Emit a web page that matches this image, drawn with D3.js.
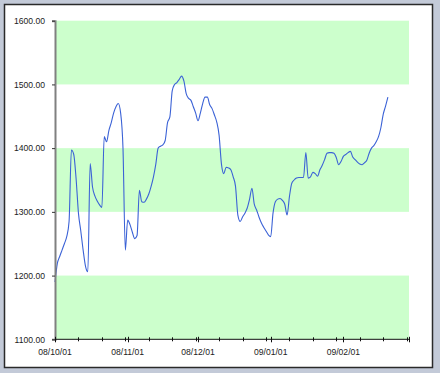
<!DOCTYPE html>
<html><head><meta charset="utf-8">
<script src="https://cdn.jsdelivr.net/npm/d3@7"></script>
<style>body{margin:0;background:#c3cad8;}svg{display:block;}</style>
</head><body>
<svg id="c" width="440" height="373"></svg>
<script>
// Data (daily closes, starting 2008-10-01)
const startDate = "2008-10-01";
const values = [
1190,1219,1230,1240,1250,1261,1285,1397,1390,1352,1298,1270,1240,1215,1206,1376,1339,1325,1317,1311,
1307,1418,1410,1428,1440,1455,1465,1470,1455,1400,1240,1287,1280,1268,1258,1263,1334,1316,1315,1320,
1328,1340,1355,1375,1400,1403,1405,1412,1440,1449,1490,1500,1503,1508,1513,1505,1485,1478,1475,1465,
1455,1443,1455,1470,1480,1480,1468,1462,1452,1441,1420,1375,1360,1370,1369,1366,1355,1340,1295,1285,
1292,1298,1306,1320,1337,1312,1303,1292,1283,1276,1270,1264,1261,1298,1316,1320,1321,1318,1312,1295,
1324,1345,1350,1353,1354,1354,1354,1393,1353,1355,1362,1360,1356,1366,1373,1382,1392,1393,1393,1392,
1385,1374,1379,1387,1390,1393,1395,1386,1382,1378,1375,1374,1377,1381,1392,1400,1404,1410,1418,1432,
1453,1466,1480
];
const yTicks = [1100,1200,1300,1400,1500,1600];
const bands = [[1100,1200],[1300,1400],[1500,1600]];
const xDomain = ["2008-10-01","2009-03-01"];
const monthLabels = ["2008-10-01","2008-11-01","2008-12-01","2009-01-01","2009-02-01"];

const parse = d3.timeParse("%Y-%m-%d");
const t0 = parse(startDate);
const data = values.map((v,i)=>({date:d3.timeDay.offset(t0,i), value:v}));

const svg = d3.select("#c");
const W=440,H=373;
const m={left:55,right:31,top:20.7,bottom:33.7};
const x = d3.scaleTime().domain(xDomain.map(parse)).range([m.left, W-m.right]);
const y = d3.scaleLinear().domain([1100,1600]).range([H-m.bottom, m.top]);

// panel
svg.append("rect").attr("x",4.5).attr("y",4.5).attr("width",428).attr("height",363)
  .attr("fill","#fff").attr("stroke","#2a2a2a").attr("stroke-width",1.5);

// bands
svg.append("g").selectAll("rect").data(bands).join("rect")
  .attr("x",x.range()[0]).attr("width",x.range()[1]-x.range()[0])
  .attr("y",d=>y(d[1])).attr("height",d=>y(d[0])-y(d[1]))
  .attr("fill","#ccffcc");

// line
svg.append("path").datum(data)
  .attr("fill","none").attr("stroke","#3b62d6").attr("stroke-width",1.1)
  .attr("d",d3.line().x(d=>x(d.date)).y(d=>y(d.value)).curve(d3.curveMonotoneX));

// y axis
const ya = svg.append("g").attr("transform",`translate(${m.left},0)`)
  .call(d3.axisLeft(y).tickValues(yTicks).tickFormat(d3.format(".2f")).tickSize(3).tickPadding(7));
ya.select(".domain").attr("stroke","#808080").attr("stroke-width",2);
ya.selectAll(".tick line").attr("stroke","#333");
ya.selectAll("text").attr("font-family","Liberation Sans, Arial, sans-serif").attr("font-size","8.6px").attr("fill","#222");

// x axis: 10-day ticks + month ticks
const tenDay = d3.timeDay.range(parse(xDomain[0]), d3.timeDay.offset(parse(xDomain[1]),1), 10);
const monthTicks = d3.timeMonth.range(parse(xDomain[0]), d3.timeDay.offset(parse(xDomain[1]),1));
const xg = svg.append("g").attr("transform",`translate(0,${y(1100)})`);
xg.append("line").attr("x1",x.range()[0]).attr("x2",x.range()[1]).attr("stroke","#111").attr("stroke-width",1);
xg.selectAll(".t10").data(tenDay).join("line").attr("class","t10")
  .attr("x1",d=>Math.round(x(d))+0.5).attr("x2",d=>Math.round(x(d))+0.5).attr("y1",-2).attr("y2",2).attr("stroke","#111");
xg.selectAll(".tm").data(monthTicks).join("line").attr("class","tm")
  .attr("x1",d=>Math.round(x(d))+0.5).attr("x2",d=>Math.round(x(d))+0.5).attr("y1",-2.5).attr("y2",3).attr("stroke","#111");
xg.selectAll("text").data(monthLabels.map(parse)).join("text")
  .attr("x",d=>x(d)).attr("y",16).attr("text-anchor","middle")
  .attr("font-family","Liberation Sans, Arial, sans-serif").attr("font-size","8.6px").attr("fill","#222")
  .text(d3.timeFormat("%y/%m/%d"));
</script>
</body></html>
